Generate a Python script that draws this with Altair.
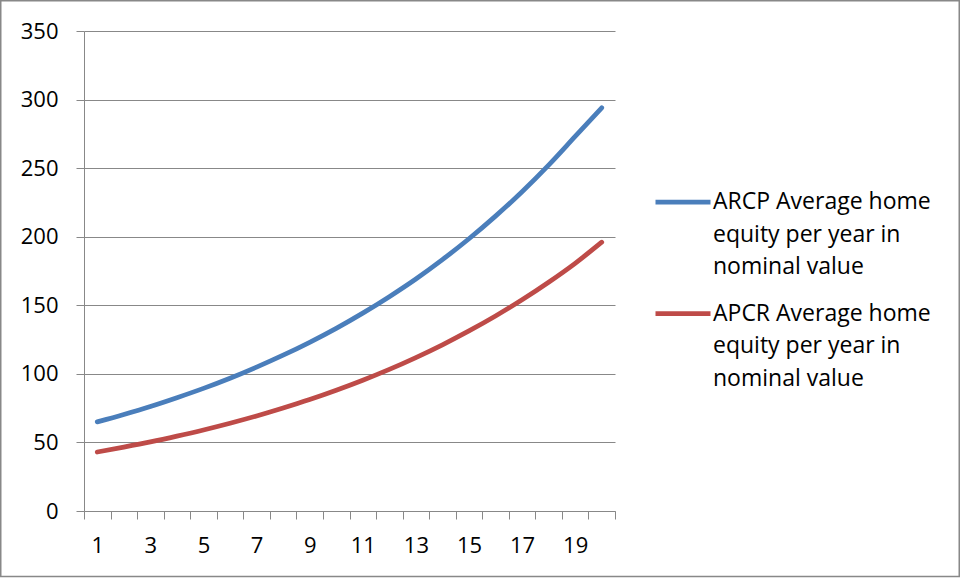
import altair as alt
import pandas as pd

years = list(range(1, 21))
arcp = [65, 70.4, 76.2, 82.6, 89.4, 96.8, 104.9, 113.6, 123.0, 133.2,
        144.3, 156.3, 169.2, 183.3, 198.5, 215.0, 232.8, 252.2, 273.1, 294]
apcr = [43, 46.6, 50.4, 54.6, 59.1, 64.0, 69.3, 75.1, 81.3, 88.1,
        95.4, 103.3, 111.9, 121.2, 131.3, 142.2, 154.0, 166.8, 180.6, 196]
series_names = [
    "ARCP Average home equity per year in nominal value",
    "APCR Average home equity per year in nominal value",
]
colors = ["#4A7EBB", "#BE4B48"]
y_ticks = [0, 50, 100, 150, 200, 250, 300, 350]

df = pd.DataFrame({
    "year": years * 2,
    "value": arcp + apcr,
    "series": [series_names[0]] * len(years) + [series_names[1]] * len(years),
})

W, H = 531, 480
FONT = "Open Sans"
GRAY = "#888888"

lines = alt.Chart(df).mark_line(
    strokeWidth=4.75, strokeCap="round", interpolate="monotone"
).encode(
    x=alt.X(
        "year:O",
        bandPosition=0.5,
        scale=alt.Scale(type="band", paddingInner=0, paddingOuter=0),
        axis=alt.Axis(
            title=None, labelAngle=0, tickBand="extent", grid=False,
            labelExpr="datum.value % 2 == 1 ? datum.label : ''",
            labelOverlap=False, domainColor=GRAY, tickColor=GRAY, tickSize=8,
            labelPadding=16, labelFont=FONT, labelFontSize=22, labelColor="black",
        ),
    ),
    y=alt.Y(
        "value:Q",
        scale=alt.Scale(domain=[0, 350], nice=False),
        axis=alt.Axis(
            title=None, values=y_ticks, grid=True, gridColor=GRAY, domainColor=GRAY,
            tickColor=GRAY, tickSize=8, labelPadding=18, labelFont=FONT,
            labelFontSize=22, labelColor="black",
        ),
    ),
    color=alt.Color(
        "series:N",
        sort=series_names,
        scale=alt.Scale(domain=series_names, range=colors),
        legend=alt.Legend(
            title=None, orient="none", legendX=569, legendY=141,
            symbolType="stroke", symbolStrokeWidth=4.75, symbolSize=3025,
            labelFont=FONT, labelFontSize=23, labelColor="black", labelLimit=0,
            labelOffset=0, rowPadding=4.5, padding=0,
            labelExpr="split(replace(replace(datum.label, ' equity', '|equity'), ' nominal', '|nominal'), '|')",
        ),
    ),
)

border = alt.Chart(pd.DataFrame({"a": [0]})).mark_rect(
    fillOpacity=0, stroke=GRAY, strokeWidth=1.5
).encode(
    x=alt.value(-83.25), x2=alt.value(875.25), y=alt.value(-30.25), y2=alt.value(545.5)
)

chart = alt.layer(lines, border).properties(
    width=W, height=H,
    autosize=alt.AutoSizeParams(type="none"),
    padding={"left": 84, "top": 31, "right": 346, "bottom": 67},
).configure(
    style={"guide-label": {"lineHeight": 32.5}}
).configure_view(strokeOpacity=0)

chart.save("out.html", embed_options={"renderer": "svg", "actions": False})
